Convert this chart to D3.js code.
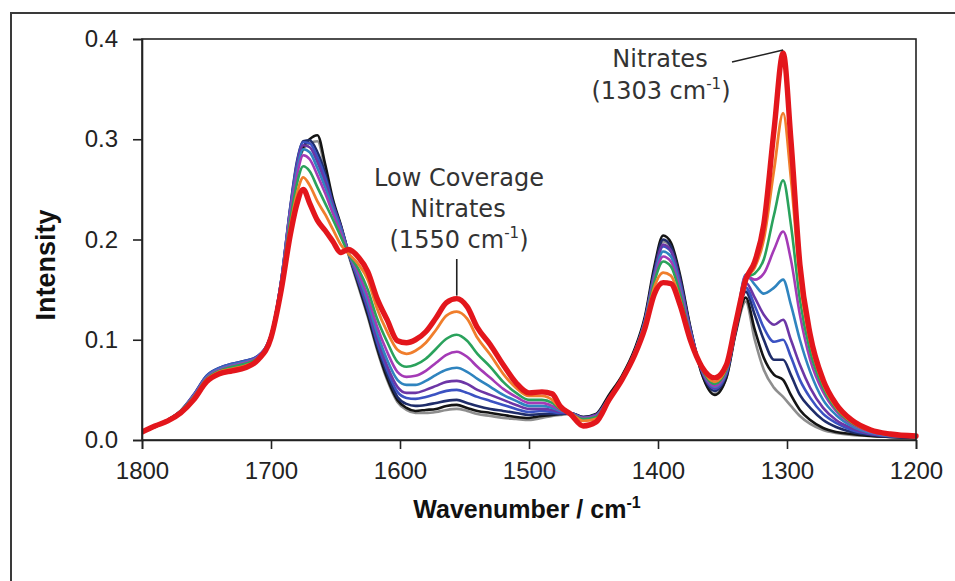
<!DOCTYPE html>
<html><head><meta charset="utf-8">
<script src="https://cdn.jsdelivr.net/npm/d3@7"></script>
<style>body{margin:0;background:#fff;overflow:hidden}</style>
</head><body>
<svg id="chart" width="955" height="581"></svg>
<script>
// ---- data ----
const wavenumbers = [1800,1790,1780,1770,1760,1750,1740,1730,1720,1710,1700,1692,1685,1680,1675,1670,1664,1658,1652,1646,1640,1632,1625,1618,1610,1602,1595,1588,1580,1572,1564,1556,1548,1540,1530,1520,1510,1500,1490,1482,1476,1468,1458,1448,1438,1428,1418,1410,1403,1396,1390,1383,1375,1366,1356,1347,1340,1332,1325,1318,1310,1303,1297,1290,1282,1272,1262,1250,1235,1220,1200];

const grayS = [0.008,0.013,0.019,0.028,0.043,0.062,0.071,0.075,0.078,0.083,0.103,
 0.157,0.226,0.270,0.290,0.296,0.298,0.270,
 0.236,0.212,0.185,0.152,0.123,0.091,0.060,
 0.038,0.030,0.027,0.027,0.028,0.030,0.031,0.029,0.026,0.024,0.022,0.021,0.020,0.022,0.024,0.025,
 0.026,0.022,0.025,0.044,0.063,0.090,0.122,0.168,0.198,0.192,0.160,0.111,0.066,0.046,0.062,0.105,
 0.138,0.100,0.070,0.052,0.043,0.034,0.024,0.016,0.010,0.007,0.005,0.004,0.003,0.002];
const blackS = [0.008,0.013,0.019,0.028,0.043,0.062,0.071,0.075,0.078,0.083,0.103,
 0.158,0.228,0.272,0.292,0.300,0.304,0.275,
 0.240,0.215,0.187,0.154,0.125,0.093,0.062,
 0.040,0.032,0.029,0.030,0.031,0.034,0.035,0.032,0.029,0.027,0.025,0.023,0.022,0.024,0.025,0.026,
 0.027,0.023,0.026,0.045,0.064,0.091,0.124,0.172,0.204,0.197,0.165,0.113,0.066,0.045,0.062,0.106,
 0.142,0.110,0.082,0.065,0.060,0.045,0.030,0.020,0.012,0.008,0.006,0.004,0.003,0.002];
const navyS = [0.008,0.014,0.020,0.029,0.045,0.064,0.072,0.076,0.079,0.084,0.105,
 0.160,0.233,0.277,0.298,0.299,0.287,0.266,
 0.237,0.214,0.187,0.156,0.128,0.096,0.066,
 0.043,0.036,0.034,0.035,0.037,0.039,0.040,0.037,0.034,0.031,0.029,0.027,0.025,0.026,0.026,0.026,
 0.027,0.023,0.025,0.043,0.062,0.089,0.121,0.168,0.200,0.193,0.162,0.112,0.068,0.049,0.065,0.108,
 0.148,0.125,0.100,0.080,0.080,0.065,0.045,0.032,0.020,0.013,0.008,0.005,0.003,0.002];
const blueS = [0.008,0.014,0.020,0.029,0.045,0.064,0.072,0.076,0.079,0.084,0.105,
 0.160,0.232,0.275,0.297,0.296,0.282,0.262,
 0.235,0.213,0.187,0.158,0.131,0.099,0.070,
 0.048,0.042,0.041,0.043,0.046,0.049,0.050,0.047,0.043,0.039,0.035,0.031,0.028,0.029,0.028,0.027,
 0.027,0.022,0.025,0.042,0.061,0.088,0.120,0.165,0.193,0.188,0.157,0.110,0.069,0.051,0.066,0.109,
 0.152,0.134,0.112,0.098,0.100,0.083,0.060,0.042,0.026,0.017,0.010,0.006,0.004,0.003];
const purpleS = [0.008,0.014,0.020,0.029,0.044,0.063,0.071,0.075,0.078,0.083,0.105,
 0.160,0.231,0.272,0.294,0.292,0.277,0.257,
 0.233,0.212,0.187,0.160,0.134,0.103,0.074,
 0.053,0.047,0.047,0.050,0.054,0.058,0.059,0.056,0.050,0.045,0.040,0.035,0.031,0.031,0.030,0.028,
 0.027,0.022,0.025,0.042,0.061,0.088,0.120,0.164,0.195,0.189,0.158,0.110,0.069,0.052,0.067,0.110,
 0.157,0.142,0.125,0.115,0.120,0.100,0.075,0.052,0.032,0.020,0.012,0.006,0.004,0.003];
const tealS = [0.008,0.014,0.020,0.029,0.044,0.063,0.071,0.075,0.078,0.083,0.105,
 0.159,0.229,0.268,0.290,0.287,0.271,0.252,
 0.230,0.210,0.187,0.163,0.138,0.108,0.080,
 0.060,0.055,0.055,0.059,0.065,0.070,0.072,0.068,0.061,0.053,0.045,0.039,0.034,0.034,0.032,0.029,
 0.027,0.022,0.024,0.042,0.061,0.088,0.119,0.162,0.188,0.183,0.154,0.108,0.070,0.053,0.068,0.110,
 0.165,0.155,0.146,0.152,0.160,0.135,0.100,0.068,0.040,0.025,0.014,0.007,0.004,0.003];
const magentaS = [0.008,0.014,0.020,0.029,0.044,0.062,0.070,0.074,0.077,0.083,0.104,
 0.158,0.226,0.263,0.284,0.280,0.264,0.246,
 0.226,0.207,0.187,0.166,0.143,0.114,0.088,
 0.068,0.063,0.064,0.069,0.077,0.085,0.088,0.083,0.073,0.062,0.051,0.043,0.037,0.037,0.034,0.030,
 0.027,0.022,0.024,0.041,0.060,0.087,0.118,0.160,0.183,0.178,0.150,0.107,0.070,0.054,0.069,0.111,
 0.164,0.160,0.166,0.190,0.208,0.180,0.125,0.080,0.048,0.029,0.016,0.008,0.005,0.003];
const greenS = [0.008,0.014,0.020,0.029,0.043,0.061,0.069,0.073,0.076,0.082,0.104,
 0.156,0.220,0.255,0.273,0.268,0.252,0.236,
 0.220,0.203,0.186,0.170,0.150,0.122,0.098,
 0.078,0.073,0.075,0.081,0.091,0.101,0.105,0.099,0.086,0.073,0.058,0.047,0.040,0.040,0.037,0.031,
 0.027,0.021,0.023,0.041,0.060,0.087,0.117,0.157,0.178,0.173,0.146,0.105,0.071,0.056,0.070,0.112,
 0.162,0.166,0.180,0.225,0.259,0.215,0.140,0.088,0.052,0.031,0.017,0.009,0.005,0.003];
const orangeS = [0.008,0.014,0.020,0.028,0.042,0.060,0.068,0.071,0.074,0.081,0.103,
 0.153,0.213,0.245,0.262,0.254,0.238,0.225,
 0.210,0.195,0.186,0.175,0.160,0.132,0.108,
 0.090,0.086,0.089,0.097,0.110,0.124,0.128,0.121,0.102,0.085,0.066,0.052,0.044,0.044,0.040,0.032,
 0.027,0.019,0.021,0.040,0.060,0.086,0.115,0.152,0.167,0.164,0.140,0.102,0.072,0.058,0.072,0.113,
 0.160,0.172,0.200,0.270,0.326,0.262,0.160,0.098,0.056,0.033,0.018,0.009,0.005,0.003];
const redS = [0.008,0.014,0.019,0.027,0.040,0.058,0.066,0.069,0.072,0.080,0.102,
 0.150,0.205,0.235,0.250,0.236,0.219,0.209,
 0.198,0.187,0.190,0.182,0.168,0.142,0.120,
 0.099,0.097,0.100,0.108,0.122,0.137,0.141,0.133,0.112,0.095,0.075,0.057,0.047,0.048,0.046,0.034,
 0.026,0.014,0.018,0.040,0.060,0.085,0.112,0.145,0.157,0.156,0.135,0.100,0.073,0.062,0.075,0.115,
 0.160,0.178,0.215,0.310,0.386,0.300,0.175,0.105,0.060,0.036,0.020,0.010,0.006,0.004];

const seriesList = [grayS, blackS, navyS, blueS, purpleS, tealS, magentaS, greenS, orangeS, redS];
const seriesColors = ["#8e8e8e","#141414","#1f2d6a","#3b52c2","#6c36a6","#2f84bf","#a43ab6","#2aa25c","#f07e2c","#e3161c"];
const seriesWidths = [2.6,2.6,2.6,2.6,2.6,2.6,2.6,2.6,2.8,5.4];

const xTicks = [1800,1700,1600,1500,1400,1300,1200];
const yTicks = [0,0.1,0.2,0.3,0.4];

// ---- drawing ----
const svg = d3.select("#chart");
const L = 142, R = 916, T = 39, B = 440;
const x = d3.scaleLinear().domain([1800,1200]).range([L,R]);
const y = d3.scaleLinear().domain([0,0.4]).range([B,T]);

svg.append("rect").attr("x",11).attr("y",13).attr("width",980).attr("height",600)
  .attr("fill","#fff").attr("stroke","#3a3a3a").attr("stroke-width",2);

const line = d3.line().x((d,i)=>x(wavenumbers[i])).y(d=>y(d)).curve(d3.curveMonotoneX);
svg.append("clipPath").attr("id","pc").append("rect")
  .attr("x",L).attr("y",T-10).attr("width",R-L+4).attr("height",B-T+10);
const g = svg.append("g").attr("clip-path","url(#pc)");
seriesList.forEach((s,k)=>{
  g.append("path").attr("d",line(s)).attr("fill","none")
   .attr("stroke",seriesColors[k]).attr("stroke-width",seriesWidths[k])
   .attr("stroke-linejoin","round").attr("stroke-linecap","round");
});

svg.append("rect").attr("x",L).attr("y",T).attr("width",R-L).attr("height",B-T)
  .attr("fill","none").attr("stroke","#222").attr("stroke-width",1.6);

const font = "'Liberation Sans', Arial, sans-serif";
const xAxis = svg.append("g").attr("transform",`translate(0,${B})`)
  .call(d3.axisBottom(x).tickValues(xTicks).tickSize(9).tickPadding(13).tickFormat(d3.format("d")));
const yAxis = svg.append("g").attr("transform",`translate(${L},0)`)
  .call(d3.axisLeft(y).tickValues(yTicks).tickSize(9).tickPadding(15).tickFormat(d3.format(".1f")));
[xAxis,yAxis].forEach(a=>{
  a.select(".domain").attr("stroke","#222").attr("stroke-width",1.6);
  a.selectAll(".tick line").attr("stroke","#222").attr("stroke-width",1.6);
  a.selectAll(".tick text").attr("font-family",font).attr("font-size",24).attr("fill","#222");
});

// axis titles
const xt = svg.append("text").attr("x",527).attr("y",518).attr("text-anchor","middle")
  .attr("font-family",font).attr("font-size",25).attr("font-weight","bold").attr("fill","#111");
xt.append("tspan").text("Wavenumber / cm");
xt.append("tspan").attr("font-size",16).attr("dy",-10).text("-1");

svg.append("text").attr("transform","translate(55,265) rotate(-90)").attr("text-anchor","middle")
  .attr("font-family",font).attr("font-size",27).attr("font-weight","bold").attr("fill","#111")
  .text("Intensity");

// annotations
const af = "'DejaVu Sans', Verdana, sans-serif";
function sup(t, main, s, tail){
  t.append("tspan").text(main);
  t.append("tspan").attr("font-size",15).attr("dy",-10).text(s);
  t.append("tspan").attr("dy",10).text(tail);
}
const a1 = svg.append("g").attr("font-family",af).attr("font-size",24).attr("fill","#333").attr("text-anchor","middle");
a1.append("text").attr("x",660).attr("y",67).text("Nitrates");
sup(a1.append("text").attr("x",661).attr("y",99), "(1303 cm", "-1", ")");
svg.append("line").attr("x1",732).attr("y1",62).attr("x2",x(1303)).attr("y2",y(0.389))
  .attr("stroke","#222").attr("stroke-width",1.6);

const a2 = svg.append("g").attr("font-family",af).attr("font-size",24).attr("fill","#333").attr("text-anchor","middle");
a2.append("text").attr("x",459).attr("y",186).text("Low Coverage");
a2.append("text").attr("x",458).attr("y",217).text("Nitrates");
sup(a2.append("text").attr("x",459).attr("y",248), "(1550 cm", "-1", ")");
svg.append("line").attr("x1",x(1556)).attr("y1",259).attr("x2",x(1556)).attr("y2",y(0.144))
  .attr("stroke","#222").attr("stroke-width",1.6);
</script>
</body></html>
